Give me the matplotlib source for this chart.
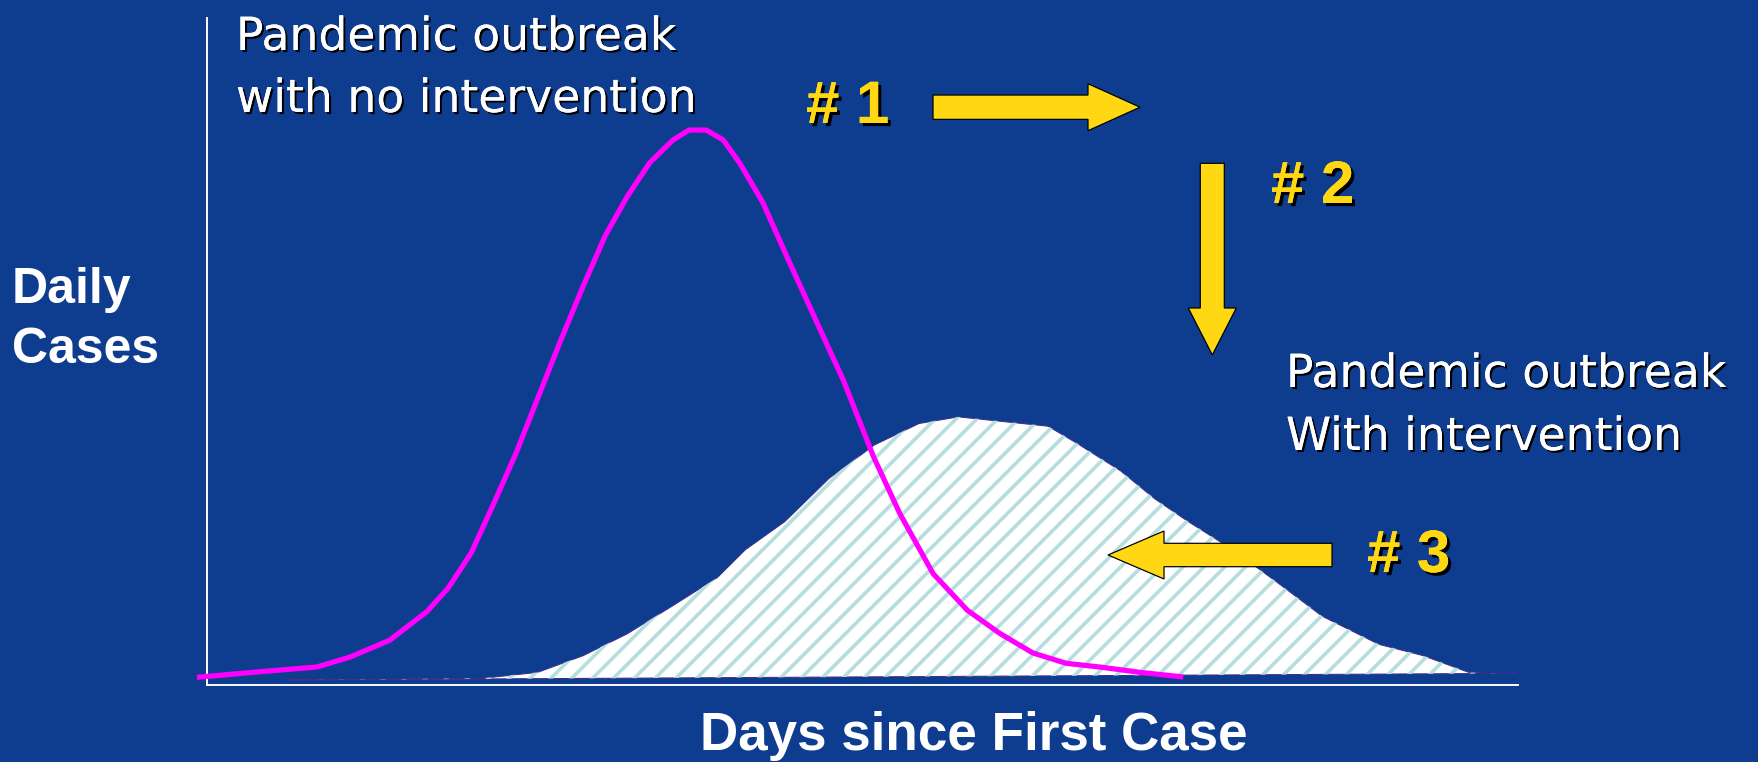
import matplotlib
matplotlib.use("Agg")
import matplotlib.pyplot as plt
import matplotlib.patheffects as pe
from matplotlib.patches import FancyArrow

# Daily cases, no intervention (magenta curve)
days_a = [-1.0, 5.3, 10.9, 14.2, 18.1, 21.8, 23.9, 26.2, 28.4, 30.6, 32.8, 35.0, 37.3,
          39.5, 41.7, 43.9, 46.2, 47.8, 49.5, 51.2, 52.8, 55.1, 57.3, 59.5, 61.7, 63.1,
          66.1, 68.7, 72.0, 75.4, 78.6, 81.9, 85.2, 88.5, 92.5, 96.8]
cases_a = [1.15, 2.0, 2.7, 4.2, 6.7, 11.0, 14.5, 19.8, 27.1, 34.6, 43.0, 51.4, 59.8,
           67.4, 73.3, 78.3, 81.7, 83.2, 83.2, 81.7, 78.3, 72.4, 64.9, 57.6, 50.3, 45.7,
           34.2, 25.7, 16.7, 11.2, 7.75, 4.8, 3.25, 2.7, 1.9, 1.2]

# Daily cases, with intervention (hatched area)
days_b = [8.2, 27.3, 32.8, 37.3, 41.7, 46.2, 50.6, 53.4, 57.3, 61.7, 66.2, 70.6, 74.5,
          83.4, 86.2, 90.6, 94.0, 97.3, 101.7, 106.2, 110.6, 116.2, 120.6, 125.1, 127.3, 130.2]
cases_b = [0.75, 1.0, 1.9, 4.4, 7.7, 11.9, 16.1, 20.3, 24.5, 31.0, 36.0, 39.2, 40.2,
           38.8, 36.3, 32.1, 27.9, 24.5, 20.3, 15.3, 10.3, 6.1, 4.4, 1.9, 1.7, 1.75]

BG = "#0E3D8F"
YELLOW = "#FFD813"
HATCH = "#B7DEDF"

plt.rcParams["hatch.linewidth"] = 2.1

W, H = 1758, 762
DPI = 125
fig = plt.figure(figsize=(W / DPI, H / DPI), dpi=DPI, facecolor=BG)

# main plot area, placed in pixels
ax = fig.add_axes([207 / W, (H - 685) / H, (1518 - 207) / W, (685 - 18) / H])
ax.set_facecolor("none")
ax.set_xlim(0, 130)
ax.set_ylim(0, 100)
for s in ["top", "right"]:
    ax.spines[s].set_visible(False)
for s in ["left", "bottom"]:
    ax.spines[s].set_color("white")
    ax.spines[s].set_linewidth(1.1)
ax.set_xticks([])
ax.set_yticks([])

ax.fill(days_b, cases_b, facecolor="white", edgecolor="#3b2f8f", linewidth=0.6, zorder=2)
ax.fill(days_b, cases_b, facecolor="none", edgecolor=HATCH, hatch="//", linewidth=0, zorder=3)
ax.plot(days_a, cases_a, color="#FF00FF", linewidth=3.0, zorder=4, clip_on=False,
        solid_capstyle="butt", solid_joinstyle="round")

# overlay in pixel coordinates for labels and arrows
ov = fig.add_axes([0, 0, 1, 1])
ov.set_xlim(0, W)
ov.set_ylim(H, 0)
ov.axis("off")
ov.patch.set_alpha(0)

shadow = [pe.withSimplePatchShadow(offset=(1.2, -1.2), shadow_rgbFace="black", alpha=1.0),
          pe.Normal()]
shadow_big = [pe.withSimplePatchShadow(offset=(1.8, -1.8), shadow_rgbFace="black", alpha=1.0),
              pe.Normal()]

for txt, x, y in [("Pandemic outbreak", 236, 50), ("with no intervention", 236, 112),
                  ("Pandemic outbreak", 1286, 387), ("With intervention", 1286, 450)]:
    ov.text(x, y, txt, color="white", fontsize=26.3, family="DejaVu Sans",
            va="baseline", ha="left", path_effects=shadow)

for txt, y in [("Daily", 303), ("Cases", 363)]:
    ov.text(12, y, txt, color="white", fontsize=28.8, fontweight="bold",
            family="Liberation Sans", va="baseline", ha="left")

ov.text(974, 750, "Days since First Case", color="white", fontsize=30.5, fontweight="bold",
        family="Liberation Sans", va="baseline", ha="center")

for txt, x, y in [("# 1", 806, 123), ("# 2", 1271, 203), ("# 3", 1367, 572)]:
    ov.text(x, y, txt, color=YELLOW, fontsize=34.5, fontweight="bold",
            family="Liberation Sans", va="baseline", ha="left", path_effects=shadow_big)

arrows = [(933, 107.2, 207, 0, 24.3, 47, 52),
          (1212.3, 163.3, 0, 191.7, 24, 48, 47),
          (1332, 555, -224, 0, 23.4, 48, 56)]
for x, y, dx, dy, w, hw, hl in arrows:
    ov.add_patch(FancyArrow(x, y, dx, dy, width=w, head_width=hw, head_length=hl,
                            length_includes_head=True, facecolor=YELLOW,
                            edgecolor="black", linewidth=0.7, zorder=5))

fig.savefig("out.png", dpi=DPI, facecolor=BG)
